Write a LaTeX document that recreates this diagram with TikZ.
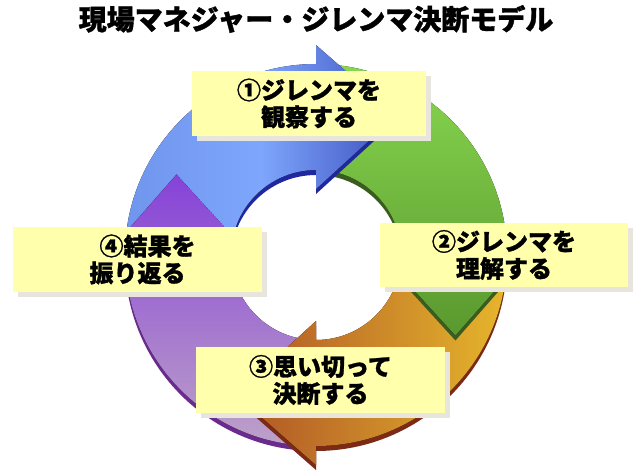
\documentclass[tikz,border=0pt]{standalone}
\usepackage{fontspec}
\newfontfamily\jpfont{Noto Sans CJK JP}[BoldFeatures={FakeBold=1.2}]
\usetikzlibrary{positioning, calc, shadows}

\definecolor{blueLeft}{HTML}{6F96EC}
\definecolor{blueMid}{HTML}{7EA6FC}
\definecolor{blueRight}{HTML}{3D50BE}
\definecolor{blueEdge}{HTML}{1F289E}
\definecolor{greenTop}{HTML}{88D750}
\definecolor{greenBottom}{HTML}{5A982E}
\definecolor{greenEdge}{HTML}{3A5C1E}
\definecolor{orangeRight}{HTML}{E6B62C}
\definecolor{orangeLeft}{HTML}{AE5426}
\definecolor{orangeEdge}{HTML}{7C2A16}
\definecolor{purpleTop}{HTML}{8642D8}
\definecolor{purpleBottom}{HTML}{BDA2C8}
\definecolor{purpleEdge}{HTML}{6A2A8E}
\definecolor{noteFill}{HTML}{FFFFAC}
\definecolor{noteShadow}{HTML}{E8E6DC}

% one ring arrow: body from angle #1 clockwise by 90, then the head
\newcommand{\ringarrow}[1]{%
  (#1:191) arc[start angle=#1, end angle=#1-90, radius=191]
  -- (#1-90:210) -- (#1-120:161) -- (#1-90:66)
  -- (#1-90:85) arc[start angle=#1-90, end angle=#1, radius=85] -- cycle}

\begin{document}
\begin{tikzpicture}[x=1pt, y=1pt,
  purpleface/.style={top color=purpleTop, bottom color=purpleBottom},
  orangeface/.style={left color=orangeLeft, right color=orangeRight},
  greenface/.style={top color=greenTop, bottom color=greenBottom},
  blueface/.style={left color=blueLeft, right color=blueRight, middle color=blueMid},
  note/.style={fill=noteFill, minimum width=249pt, minimum height=65pt,
    inner sep=0pt, align=center,
    font=\jpfont\bfseries\fontsize{24}{27}\selectfont,
    drop shadow={shadow xshift=5pt, shadow yshift=-5pt, fill=noteShadow, opacity=1}}]

% --- Canvas ---
\useasboundingbox (0,0) rectangle (634,474);

% --- Title ---
\node[font=\jpfont\bfseries\fontsize{28}{30}\selectfont] (title) at (316,455)
  {現場マネジャー・ジレンマ決断モデル};

% --- Cycle arrows (dark edge first, then the face) ---
\begin{scope}[shift={(316,219)}]
  \foreach \a/\face/\edge in {270/purpleface/purpleEdge, 0/orangeface/orangeEdge,
                              90/greenface/greenEdge, 180/blueface/blueEdge} {
    \fill[\edge, shift={(0,-5)}] \ringarrow{\a};
    \fill[\face] \ringarrow{\a};
  }
  % purple head lies over the blue tail
  \begin{scope}
    \clip (180:210) -- (150:161) -- (180:66) -- cycle;
    \fill[purpleface] \ringarrow{270};
  \end{scope}
\end{scope}

% --- Step notes ---
\node[note, minimum width=234pt] (observe) at (309,370.5) {①ジレンマを\\観察する};
\node[note, minimum width=248pt, minimum height=64pt] (understand) at (504,219)
  {②ジレンマを\\理解する};
\node[note, minimum height=66pt] (decide) at (320.5,94) {③思い切って\\決断する};
\node[note] (reflect) at (137.5,214.5) {\hspace*{20pt}④結果を\\振り返る};

\end{tikzpicture}
\end{document}
